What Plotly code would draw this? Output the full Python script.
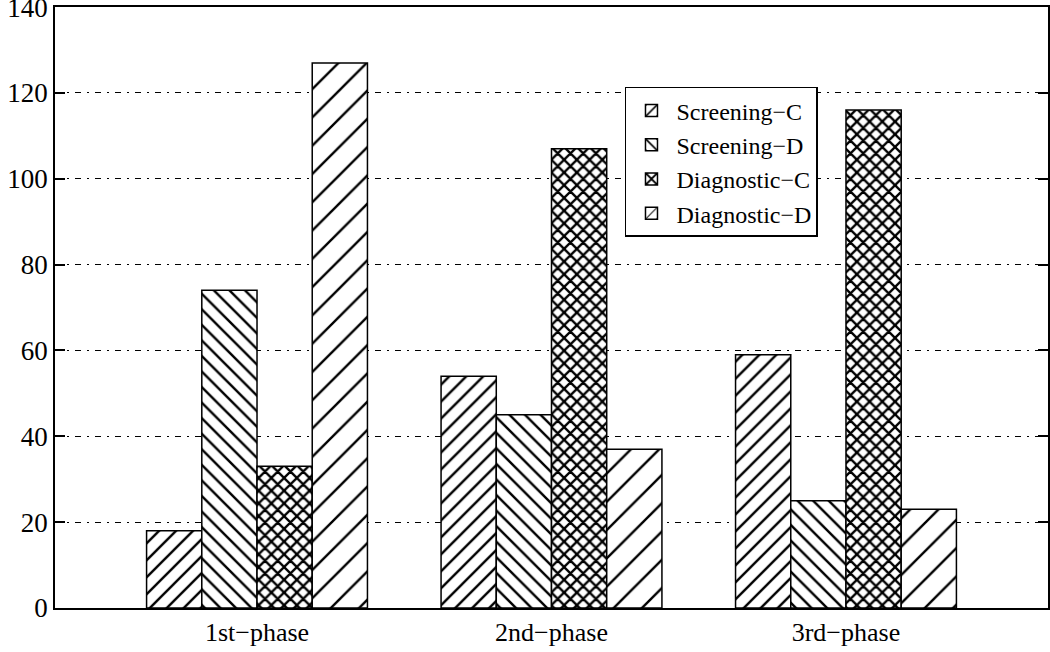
import plotly.graph_objects as go

categories = ["1st\u2212phase", "2nd\u2212phase", "3rd\u2212phase"]
series_names = ["Screening\u2212C", "Screening\u2212D", "Diagnostic\u2212C", "Diagnostic\u2212D"]
screening_c = [18, 54, 59]
screening_d = [74, 45, 25]
diagnostic_c = [33, 107, 116]
diagnostic_d = [127, 37, 23]
y_ticks = [0, 20, 40, 60, 80, 100, 120, 140]

values = [screening_c, screening_d, diagnostic_c, diagnostic_d]
patterns = [
    dict(shape="/", size=12, solidity=0.2),
    dict(shape="\\", size=11, solidity=0.22),
    dict(shape="x", size=9, solidity=0.45),
    dict(shape="/", size=20, solidity=0.12),
]

fig = go.Figure()
for name, vals, pat in zip(series_names, values, patterns):
    fig.add_trace(go.Bar(
        x=list(range(len(categories))), y=vals, name=name,
        marker=dict(color="white", line=dict(color="black", width=1.5),
                    pattern=dict(fgcolor="black", bgcolor="white", fillmode="replace", **pat)),
    ))

font = "Liberation Serif, Times New Roman, serif"
fig.update_layout(
    width=1050, height=652,
    margin=dict(l=55, r=2, t=7, b=44, autoexpand=False),
    paper_bgcolor="white", plot_bgcolor="white",
    barmode="group", bargap=0.25, bargroupgap=0,
    font=dict(family=font, size=24, color="black"),
    legend=dict(x=0.574, y=0.867, xanchor="left", yanchor="top",
                bgcolor="white", bordercolor="black", borderwidth=1.5,
                font=dict(family=font, size=24, color="black"),
                itemwidth=40, tracegroupgap=0),
    showlegend=True,
)
fig.update_xaxes(
    range=[-0.686, 2.686], tickvals=list(range(len(categories))), ticktext=categories,
    showline=True, mirror=True, linecolor="black", linewidth=1.5,
    showgrid=False, ticks="", zeroline=False, automargin=False,
    tickfont=dict(family=font, size=26, color="black"),
)
fig.update_yaxes(
    range=[0, 140.02], tickvals=y_ticks,
    showline=True, mirror="ticks", linecolor="black", linewidth=1.5,
    ticks="inside", ticklen=10, tickwidth=1.5, tickcolor="black",
    showgrid=True, gridcolor="black", gridwidth=1, griddash="6px,6px,2px,6px",
    zeroline=False, automargin=False, ticklabeloverflow="allow",
    tickfont=dict(family=font, size=27, color="black"),
)
fig.write_html("out.html", config={"displayModeBar": False},
               post_script="document.body.style.margin='0';document.body.style.overflow='hidden';")
